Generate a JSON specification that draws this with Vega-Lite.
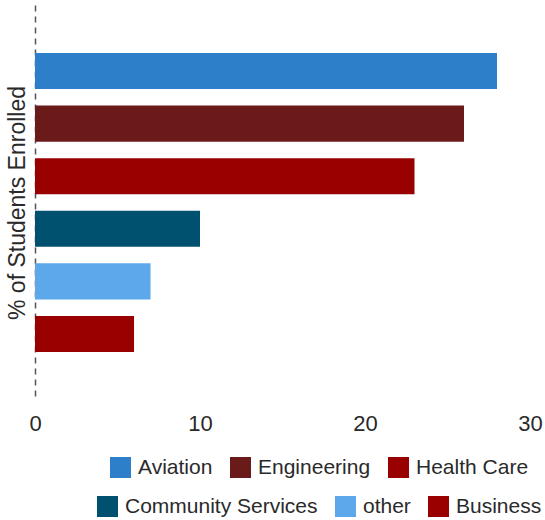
{
  "$schema": "https://vega.github.io/schema/vega-lite/v6.json",
  "width": 495,
  "height": 395,
  "autosize": {"type": "none"},
  "padding": {"left": 35, "top": 5, "right": 15, "bottom": 120},
  "background": "white",
  "config": {
    "view": {"stroke": null},
    "font": "Liberation Sans",
    "axis": {"labelColor": "#2a2a2a", "titleColor": "#2a2a2a"},
    "legend": {"labelColor": "#2a2a2a"}
  },
  "data": {
    "values": [
      {"program": "Aviation", "pct": 28, "row": 1},
      {"program": "Engineering", "pct": 26, "row": 1},
      {"program": "Health Care", "pct": 23, "row": 1},
      {"program": "Community Services", "pct": 10, "row": 2},
      {"program": "other", "pct": 7, "row": 2},
      {"program": "Business", "pct": 6, "row": 2}
    ]
  },
  "encoding": {
    "x": {
      "field": "pct",
      "type": "quantitative",
      "scale": {"domain": [0, 30], "nice": false},
      "axis": {
        "values": [0, 10, 20, 30],
        "title": null,
        "grid": false,
        "domain": false,
        "ticks": false,
        "labelFontSize": 22,
        "labelPadding": 13,
        "labelFlush": false
      }
    },
    "y": {
      "field": "program",
      "type": "nominal",
      "scale": {
        "domain": ["Aviation", "Engineering", "Health Care", "Community Services", "other", "Business"],
        "paddingInner": 0.314,
        "paddingOuter": 0.914
      },
      "axis": {
        "title": "% of Students Enrolled",
        "titleFontSize": 23,
        "titleFontWeight": "normal",
        "titlePadding": 6,
        "labels": false,
        "ticks": false,
        "grid": false,
        "domain": true,
        "domainColor": "#555",
        "domainWidth": 1.5,
        "domainDash": [6, 5]
      }
    }
  },
  "layer": [
    {
      "transform": [{"filter": "datum.row === 1"}],
      "mark": {"type": "bar"},
      "encoding": {
        "color": {
          "field": "program",
          "type": "nominal",
          "scale": {
            "domain": ["Aviation", "Engineering", "Health Care"],
            "range": ["#2e7fca", "#6b1a1a", "#990000"]
          },
          "legend": {
            "title": null,
            "orient": "none",
            "direction": "horizontal",
            "legendX": 75,
            "legendY": 452,
            "padding": 0,
            "symbolType": "square",
            "symbolSize": 441,
            "symbolStrokeWidth": 0,
            "symbolOpacity": 1,
            "labelFontSize": 21,
            "labelLimit": 0,
            "labelOffset": 7,
            "columnPadding": 17
          }
        }
      }
    },
    {
      "transform": [{"filter": "datum.row === 2"}],
      "mark": {"type": "bar"},
      "encoding": {
        "color": {
          "field": "program",
          "type": "nominal",
          "scale": {
            "domain": ["Community Services", "other", "Business"],
            "range": ["#00506f", "#5ca8ea", "#990000"]
          },
          "legend": {
            "title": null,
            "orient": "none",
            "direction": "horizontal",
            "legendX": 62,
            "legendY": 491,
            "padding": 0,
            "symbolType": "square",
            "symbolSize": 441,
            "symbolStrokeWidth": 0,
            "symbolOpacity": 1,
            "labelFontSize": 21,
            "labelLimit": 0,
            "labelOffset": 7,
            "columnPadding": 17
          }
        }
      }
    }
  ],
  "resolve": {"scale": {"color": "independent"}, "legend": {"color": "independent"}}
}
